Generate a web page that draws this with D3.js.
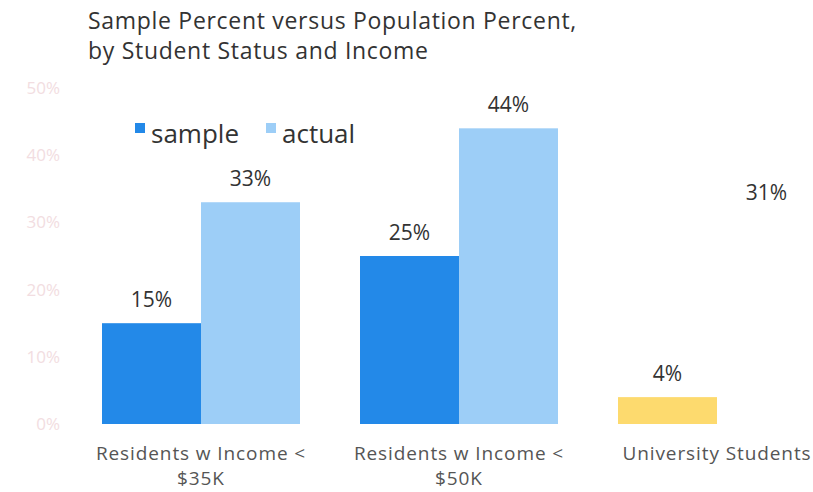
<!DOCTYPE html>
<html>
<head>
<meta charset="utf-8">
<script src="https://cdn.jsdelivr.net/npm/d3@7"></script>
<style>
  body { margin: 0; background: #fff; }
  text { font-family: "Open Sans", Lato, sans-serif; }
</style>
</head>
<body>
<div id="chart"></div>
<script>
    "use strict";
    // chart data
    var categories = ["Residents w Income < $35K", "Residents w Income < $50K", "University Students"];
    var categoryLines = [["Residents w Income <", "$35K"], ["Residents w Income <", "$50K"], ["University Students"]];
    var seriesNames = ["sample", "actual"];
    var sampleValues = [15, 25, 4];
    var actualValues = [33, 44, 31];
    var yTicks = [0, 10, 20, 30, 40, 50];

    var width = 813, height = 492;
    var baseY = 424, topY = 88;
    var colors = {sample: "#2389E8", actual: "#9DCEF7"};
    var barColor = function (d) {
        // the students group is drawn yellow / blank in the source
        if (d.cat === categories[2]) return d.series === "sample" ? "#FDDA6E" : "#ffffff";
        return colors[d.series];
    };

    var svg = d3.select("#chart").append("svg")
        .attr("width", width)
        .attr("height", height);

    var x0 = d3.scaleBand().domain(categories).range([102, 816])
        .paddingInner(0.2326).paddingOuter(0);
    var x1 = d3.scaleBand().domain(seriesNames).range([0, x0.bandwidth()]);
    var y = d3.scaleLinear().domain([0, 50]).range([baseY, topY]);

    // title
    var titleLines = ["Sample Percent versus Population Percent,", "by Student Status and Income"];
    svg.append("g").selectAll("text")
        .data(titleLines)
        .enter()
        .append("text")
        .attr("x", 88)
        .attr("y", function (d, i) { return 29 + i * 30; })
        .attr("fill", "#333")
        .attr("font-size", "23px")
        .attr("letter-spacing", "0.7px")
        .text(function (d) { return d; });

    // faint y axis
    var yAxis = d3.axisLeft(y).tickValues(yTicks).tickFormat(function (d) { return d + "%"; })
        .tickSize(0).tickPadding(0);
    var yg = svg.append("g").attr("transform", "translate(60,0)").call(yAxis);
    yg.select(".domain").remove();
    yg.selectAll("text").attr("fill", "#f2dde1").attr("font-size", "17px")
        .style("font-family", "'Open Sans', sans-serif");

    var rows = [];
    categories.forEach(function (c, i) {
        rows.push({cat: c, series: "sample", value: sampleValues[i]});
        rows.push({cat: c, series: "actual", value: actualValues[i]});
    });

    svg.append("g").selectAll("rect")
        .data(rows)
        .enter()
        .append("rect")
        .attr("x", function (d) { return x0(d.cat) + x1(d.series); })
        .attr("y", function (d) { return y(d.value); })
        .attr("width", x1.bandwidth())
        .attr("height", function (d) { return baseY - y(d.value); })
        .attr("fill", barColor);

    svg.append("g").selectAll("text")
        .data(rows)
        .enter()
        .append("text")
        .attr("x", function (d) { return x0(d.cat) + x1(d.series) + x1.bandwidth() / 2; })
        .attr("y", function (d) { return y(d.value) - 16; })
        .attr("text-anchor", "middle")
        .attr("font-size", "21px")
        .attr("fill", "#333")
        .text(function (d) { return d.value + "%"; });

    // category labels, one text per line
    var catRows = [];
    categories.forEach(function (c, i) {
        categoryLines[i].forEach(function (l, j) {
            catRows.push({cat: c, line: l, n: j});
        });
    });
    svg.append("g").selectAll("text")
        .data(catRows)
        .enter()
        .append("text")
        .attr("x", function (d) { return x0(d.cat) + x0.bandwidth() / 2; })
        .attr("y", function (d) { return 460 + d.n * 25; })
        .attr("text-anchor", "middle")
        .attr("font-size", "19px")
        .attr("letter-spacing", "0.9px")
        .attr("fill", "#555")
        .text(function (d) { return d.line; });

    // legend
    var legendX = [135, 266];
    var legend = svg.append("g").selectAll("g")
        .data(seriesNames)
        .enter()
        .append("g")
        .attr("transform", function (d, i) { return "translate(" + legendX[i] + ",123)"; });
    legend.append("rect")
        .attr("width", 10).attr("height", 10)
        .attr("fill", function (d) { return colors[d]; });
    legend.append("text")
        .attr("x", 16).attr("y", 20)
        .attr("font-size", "26px")
        .attr("fill", "#333")
        .text(function (d) { return d; });
</script>
</body>
</html>
